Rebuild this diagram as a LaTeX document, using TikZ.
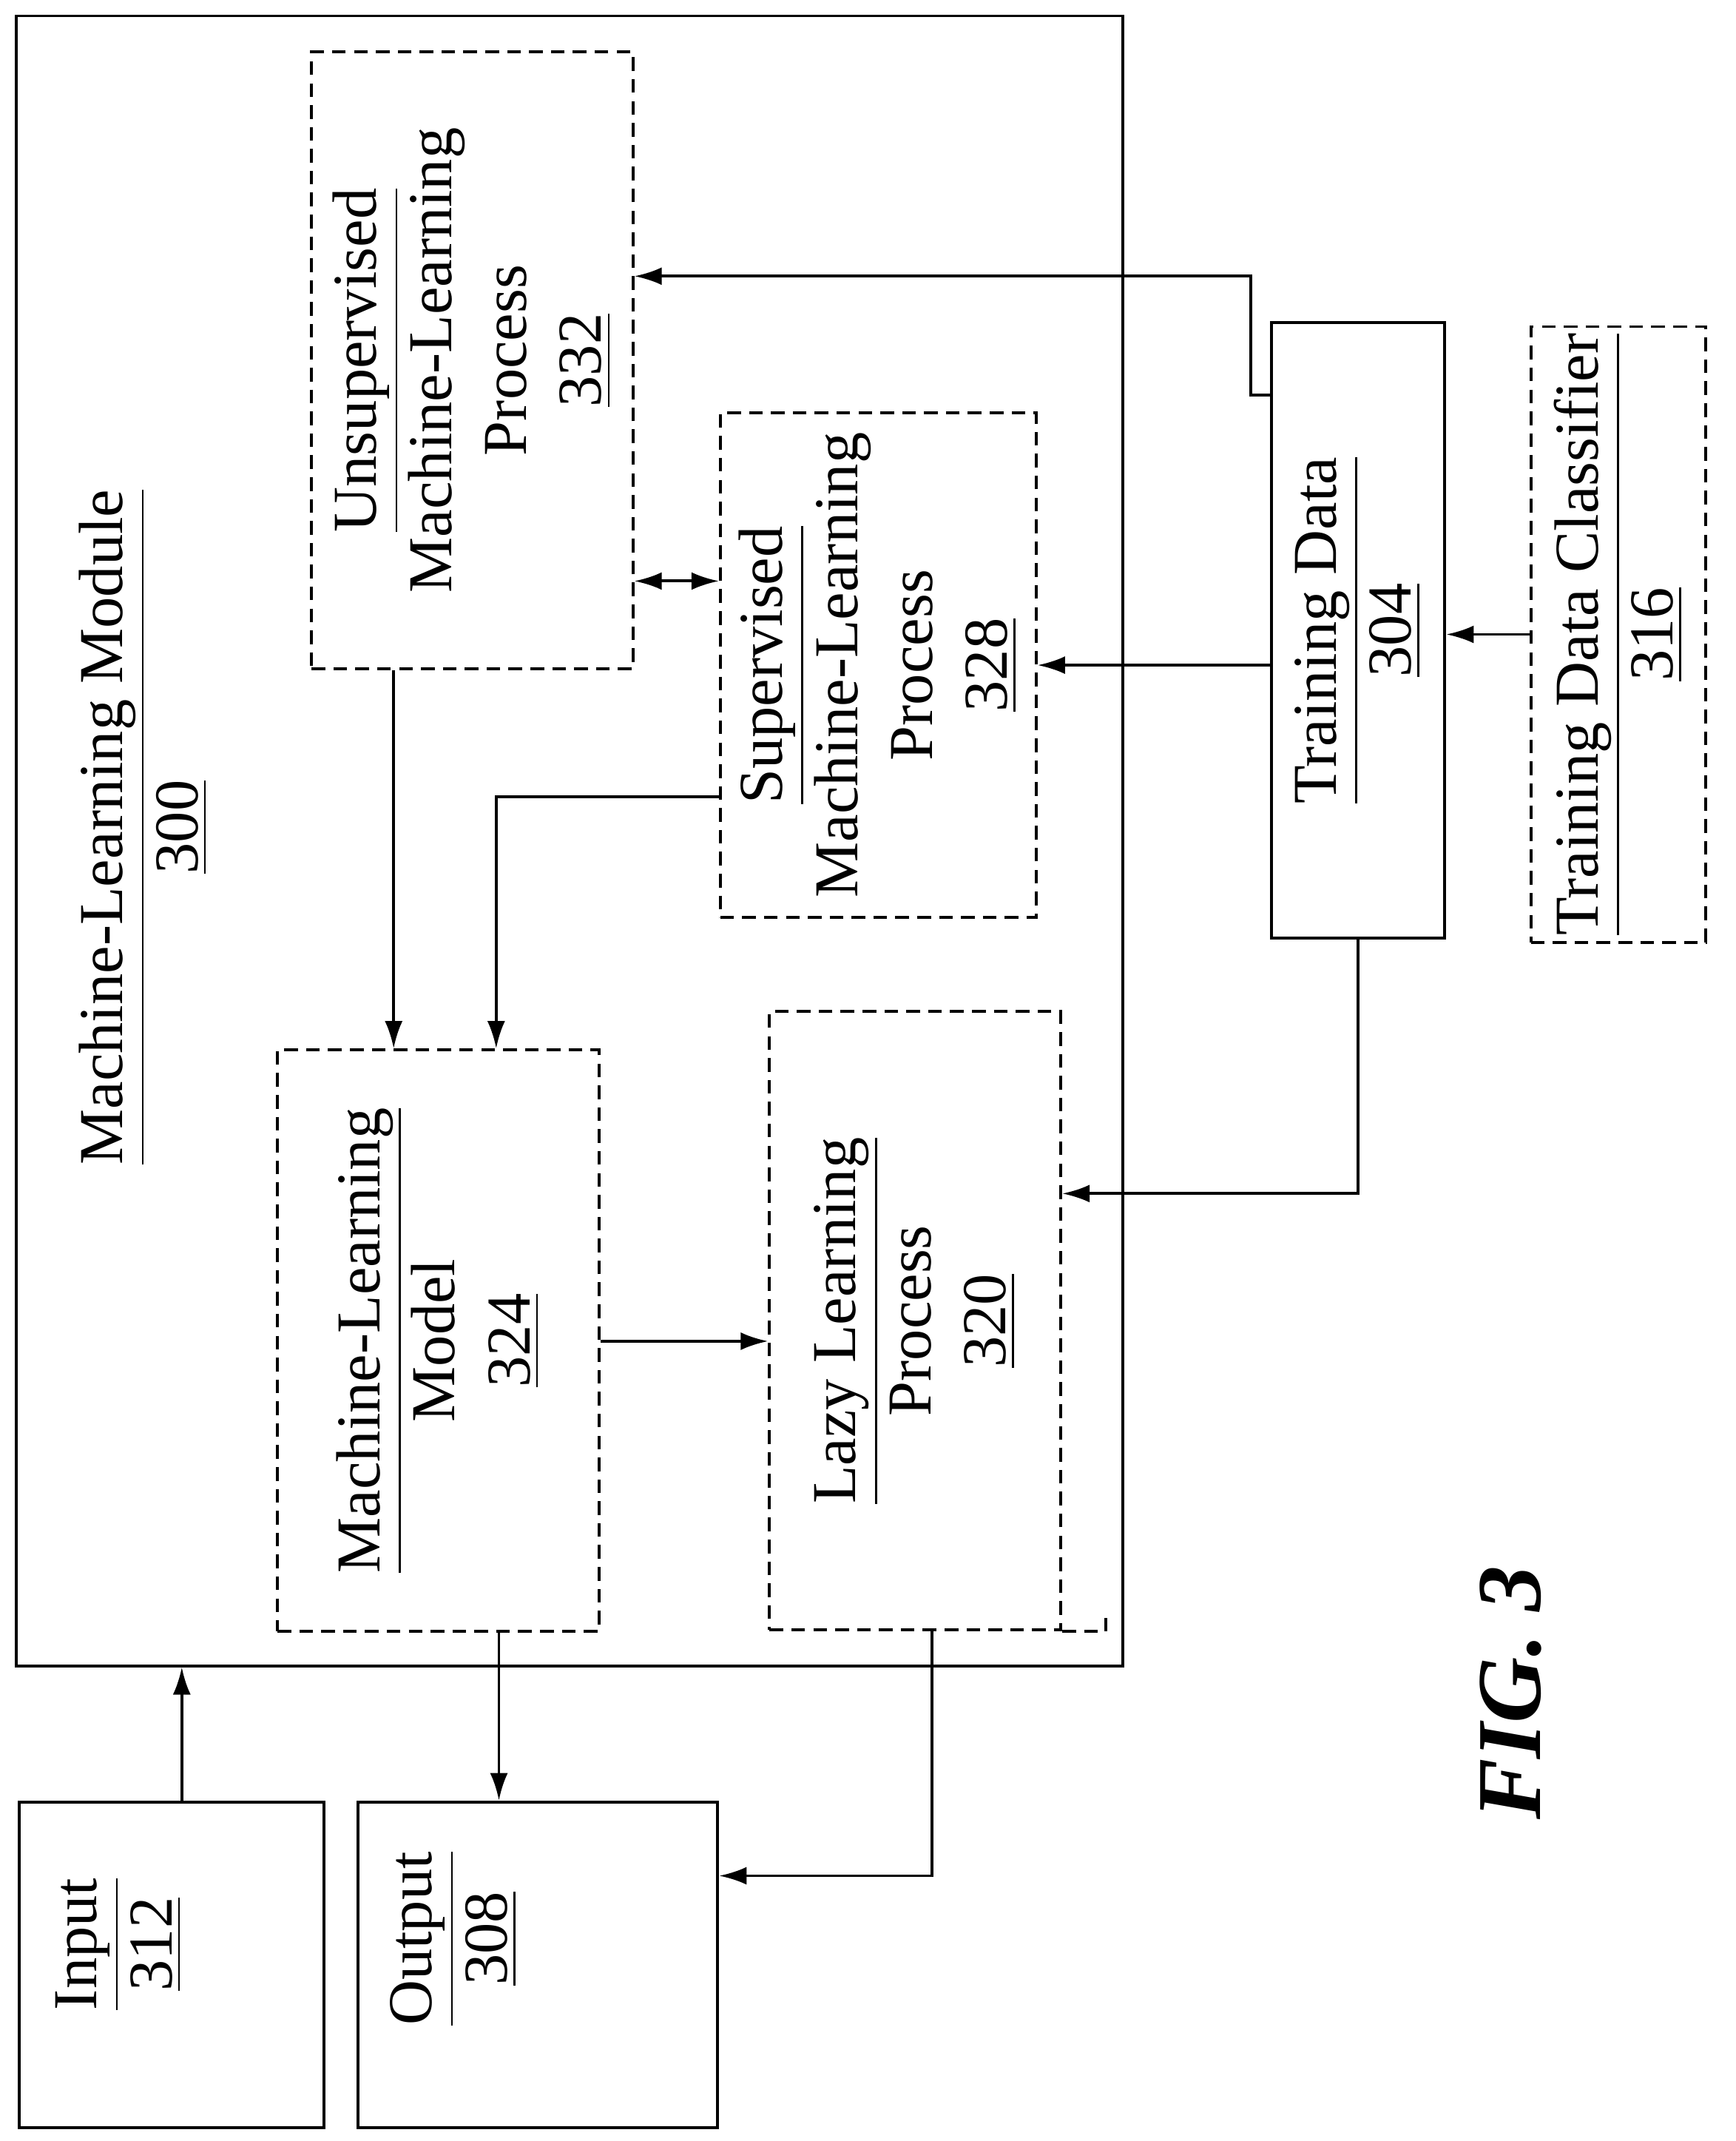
\documentclass[tikz,border=0pt]{standalone}
\usepackage{fontspec}
\setmainfont{Liberation Serif}
\usetikzlibrary{arrows.meta,calc}

\tikzset{
    box/.style={draw, line width=0.6pt, inner sep=0pt},
    dbox/.style={box, dash pattern=on 1mm off 0.6mm},
    txt/.style={rotate=90, align=center, font=\fontsize{13}{15.6}\selectfont},
    conn/.style={line width=0.6pt, -{Latex[length=2mm,width=1.3mm]}}
}

\begin{document}
\begin{tikzpicture}[x=0.01cm, y=-0.01cm]
        \useasboundingbox (0,0) rectangle (1270,1566);

        % blocks
        \node[box, minimum width=8.09cm, minimum height=12.06cm] (module) at (416.5,615) {};
        \node[dbox, minimum width=2.35cm, minimum height=4.51cm] (unsup) at (345.5,263.5) {};
        \node[dbox, minimum width=2.31cm, minimum height=3.69cm] (sup) at (642.5,486.5) {};
        \node[dbox, minimum width=2.35cm, minimum height=4.25cm] (model) at (320.5,980.5) {};
        \node[dbox, minimum width=2.13cm, minimum height=4.52cm] (lazy) at (669.5,966) {};
        \node[box, minimum width=1.27cm, minimum height=4.50cm] (train) at (993.5,461) {};
        \node[dbox, minimum width=1.28cm, minimum height=4.50cm] (classif) at (1184,464) {};
        \node[box, minimum width=2.23cm, minimum height=2.38cm] (input) at (125.5,1437) {};
        \node[box, minimum width=2.63cm, minimum height=2.38cm] (output) at (393.5,1437) {};
        \draw[dbox] (lazy.south east) -- ++(32,0) -- ++(0,-10);

        % labels
        \node[txt] at (105,605) {\underline{Machine-Learning Module}\\\underline{300}};
        \node[txt] at (unsup) {\underline{Unsupervised}\\Machine-Learning\\Process\\\underline{332}};
        \node[txt] at (sup) {\underline{Supervised}\\Machine-Learning\\Process\\\underline{328}};
        \node[txt] at (model) {\underline{Machine-Learning}\\Model\\\underline{324}};
        \node[txt] at (lazy) {\underline{Lazy Learning}\\Process\\\underline{320}};
        \node[txt] at (train) {\underline{Training Data}\\\underline{304}};
        \node[txt] at (classif) {\underline{Training Data Classifier}\\\underline{316}};
        \node[txt] at (87,1422) {\underline{Input}\\\underline{312}};
        \node[txt] at (332,1418) {\underline{Output}\\\underline{308}};
        \node[rotate=90, font=\fontsize{19}{23}\selectfont\bfseries\itshape] (fig) at (1105,1238) {FIG. 3};

        % connectors
        \draw[conn] ($(train.north west)+(0,54)$) -- ++(-14,0) |- (unsup.east |- 0,202);
        \draw[conn] (train.west |- sup.east) -- (sup.east);
        \draw[conn] (classif.west) -- (train.east |- classif.west);
        \draw[conn] ($(train.south)$) |- (lazy.east |- 0,873);
        \draw[line width=0.6pt, {Latex[length=2mm,width=1.3mm]}-{Latex[length=2mm,width=1.3mm]}] (unsup.east |- 0,425) -- (sup.west |- 0,425);
        \draw[conn] (unsup.south -| 288,0) -- (model.north -| 288,0);
        \draw[conn] (sup.west |- 0,583) -| (model.north -| 363,0);
        \draw[conn] (model.east |- 0,981) -- (lazy.west |- 0,981);
        \draw[conn] (model.south -| 365,0) -- (output.north -| 365,0);
        \draw[conn] (lazy.south -| 682,0) |- (output.east |- 0,1372);
        \draw[conn] (input.north -| 133,0) -- (module.south -| 133,0);
\end{tikzpicture}
\end{document}
